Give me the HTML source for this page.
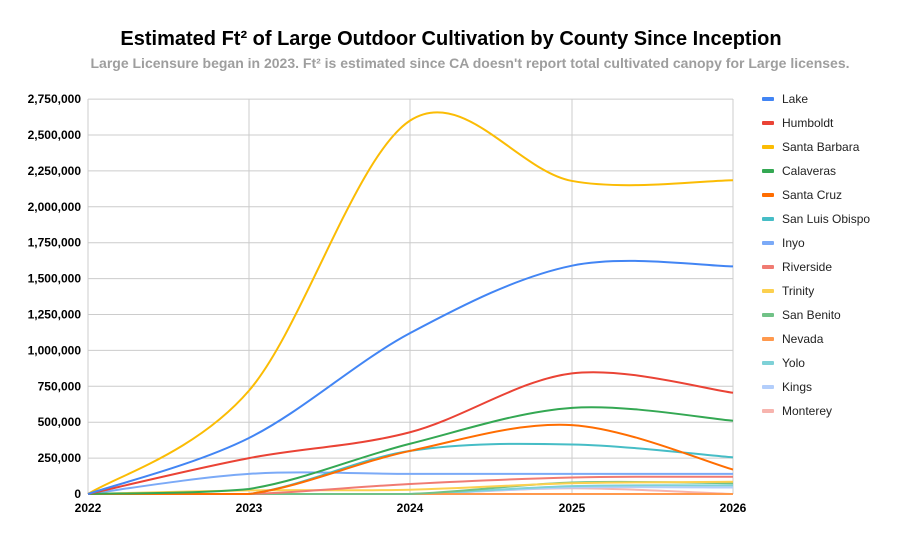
<!DOCTYPE html>
<html><head><meta charset="utf-8"><style>
body{margin:0;background:#fff;font-family:"Liberation Sans",Arial,sans-serif}
</style></head><body>
<svg id="s" width="901" height="542" xmlns="http://www.w3.org/2000/svg" font-family="Liberation Sans, Arial, sans-serif">
<rect width="901" height="542" fill="#fff"/>
<text x="451" y="45" text-anchor="middle" font-size="20" font-weight="bold" fill="#000">Estimated Ft² of Large Outdoor Cultivation by County Since Inception</text>
<text x="470" y="68" text-anchor="middle" font-size="14" font-weight="bold" fill="#9e9e9e">Large Licensure began in 2023. Ft² is estimated since CA doesn't report total cultivated canopy for Large licenses.</text>
<g id="grid" stroke="#ccc" stroke-width="1"></g>
<g id="lines" fill="none" stroke-width="2"></g>
<g id="leg" font-size="12" fill="#222"></g>
</svg>
<script>
var X=[88,249,410,572,733];
function Y(v){return 494-v/250000*35.9;}
var g=document.getElementById('grid'),s='';
for(var i=0;i<=11;i++){var y=Y(i*250000);s+='<line x1="88" x2="733" y1="'+y+'" y2="'+y+'" stroke="'+(i==0?'#333':'#ccc')+'"/>';
s+='<text x="81" y="'+(y+4)+'" text-anchor="end" font-size="12" font-weight="bold" fill="#000" stroke="none">'+(i*250000).toLocaleString('en-US')+'</text>';}
for(var j=0;j<5;j++){s+='<line x1="'+X[j]+'" x2="'+X[j]+'" y1="99" y2="494"/>';
s+='<text x="'+X[j]+'" y="512" text-anchor="middle" font-size="12" font-weight="bold" fill="#000" stroke="none">'+(2022+j)+'</text>';}
g.innerHTML=s;
var D=[
["Lake","#4285f4",[0,390000,1120000,1590000,1585000]],
["Humboldt","#ea4335",[0,250000,430000,840000,705000]],
["Santa Barbara","#fbbc04",[0,720000,2600000,2180000,2185000]],
["Calaveras","#34a853",[0,35000,350000,600000,510000]],
["Santa Cruz","#ff6d01",[0,0,300000,480000,170000]],
["San Luis Obispo","#46bdc6",[0,0,300000,345000,255000]],
["Inyo","#7baaf7",[0,140000,140000,140000,140000]],
["Riverside","#f07b72",[0,0,70000,115000,120000]],
["Trinity","#fcd04f",[0,25000,30000,75000,85000]],
["San Benito","#71c287",[0,0,0,80000,75000]],
["Nevada","#ff994d",[0,0,0,0,0]],
["Yolo","#7ed1d7",[0,0,0,55000,60000]],
["Kings","#b3cefb",[0,0,0,45000,45000]],
["Monterey","#f7b4ae",[0,0,0,40000,0]]];
var L='',G='';
for(var k=D.length-1;k>=0;k--){var v=D[k][2],p=[];for(var i=0;i<5;i++)p.push([X[i],Y(v[i])]);
var d='M'+p[0][0]+','+p[0][1];
for(var i=0;i<4;i++){var p0=p[Math.max(i-1,0)],p1=p[i],p2=p[i+1],p3=p[Math.min(i+2,4)],t=0.5/3*2;
var c1x=p1[0]+(p2[0]-p0[0])*t/2,c1y=p1[1]+(p2[1]-p0[1])*t/2,c2x=p2[0]-(p3[0]-p1[0])*t/2,c2y=p2[1]-(p3[1]-p1[1])*t/2;
d+=' C'+c1x+','+Math.min(c1y,494)+' '+c2x+','+Math.min(c2y,494)+' '+p2[0]+','+p2[1];}
L+='<path d="'+d+'" stroke="'+D[k][1]+'"/>';}
for(var k=0;k<D.length;k++){var y=99+k*24;G+='<rect x="762" y="'+(y-2)+'" width="12" height="4" rx="1" fill="'+D[k][1]+'"/><text x="782" y="'+(y+4)+'">'+D[k][0]+'</text>';}
document.getElementById('lines').innerHTML=L;document.getElementById('leg').innerHTML=G;
</script>
</body></html>
